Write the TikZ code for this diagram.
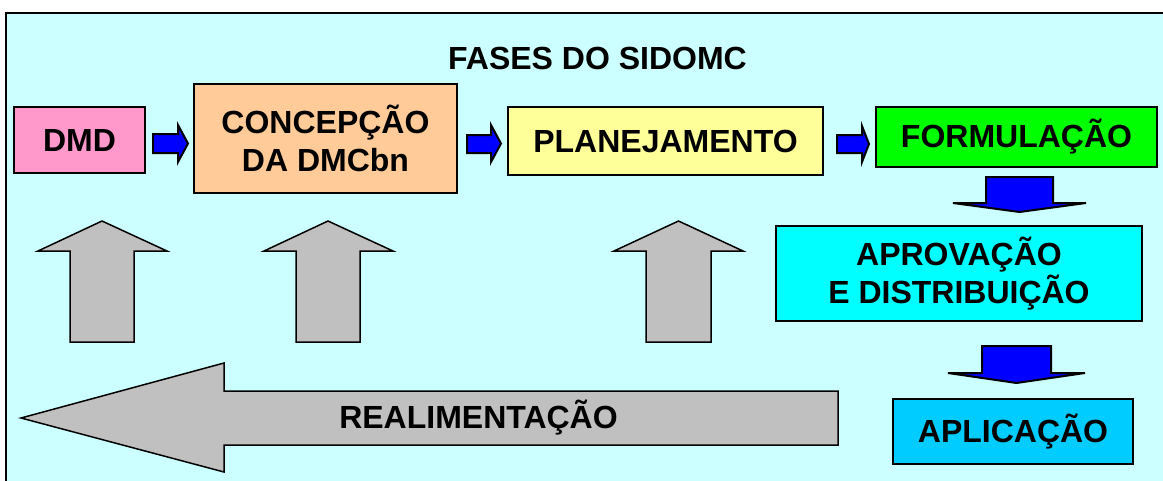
\documentclass[tikz,border=0pt]{standalone}
\usepackage{fontspec}
\setmainfont{Liberation Sans}
\definecolor{bg}{HTML}{CCFFFF}
\definecolor{pink1}{HTML}{FF99CC}
\definecolor{peach}{HTML}{FFCC99}
\definecolor{yel}{HTML}{FFFF99}
\definecolor{green1}{HTML}{00FF00}
\definecolor{cyan1}{HTML}{00FFFF}
\definecolor{aplic}{HTML}{00CCFF}
\definecolor{blue1}{HTML}{0000FF}
\definecolor{gray1}{HTML}{C0C0C0}
\begin{document}
\begin{tikzpicture}[x=1pt,y=-1pt,line join=miter,
  txt/.style={inner sep=0pt,font=\bfseries\fontsize{32}{38}\selectfont,align=center},
  box/.style={txt,draw=black,line width=2pt},
  garrow/.style={draw=black,line width=1.5pt,fill=gray1},
  barrow/.style={draw=black,line width=2pt,fill=blue1}]
\useasboundingbox (0,0) rectangle (1163,480);
\fill[white] (0,0) rectangle (1163,480);
\draw[line width=2pt,fill=bg] (6,13) rectangle (1185,505);

\node[txt] (title) at (597.5,58) {FASES DO SIDOMC};

\node[box,fill=pink1,minimum width=131pt,minimum height=66pt] (dmd) at (79.5,140) {DMD};
\node[box,fill=peach,minimum width=263pt,minimum height=109pt] (conc) at (325.5,138.5) {CONCEPÇÃO\\DA DMCbn};
\node[box,fill=yel,minimum width=315pt,minimum height=68pt] (plan) at (665.5,141) {PLANEJAMENTO};
\node[box,fill=green1,minimum width=281pt,minimum height=60pt] (form) at (1016.5,137) {FORMULAÇÃO};
\node[box,fill=cyan1,minimum width=366pt,minimum height=95pt] (apro) at (959,273.5) {APROVAÇÃO\\E DISTRIBUIÇÃO};
\node[box,fill=aplic,minimum width=240pt,minimum height=65pt] (apli) at (1013,431.5) {APLICAÇÃO};

% small blue right arrows
\draw[barrow] (153,134)--(178,134)--(178,125)--(188,143.5)--(178,162)--(178,153)--(153,153)--cycle;
\draw[barrow] (467,135)--(491,135)--(491,125)--(501,143.5)--(491,162)--(491,153)--(467,153)--cycle;
\draw[barrow] (837,135)--(862,135)--(862,126)--(869,144)--(862,162)--(862,153)--(837,153)--cycle;

% blue down arrows
\draw[barrow] (986,177)--(1053,177)--(1053,203)--(1086,203)--(1019.5,212)--(953,203)--(986,203)--cycle;
\draw[barrow] (982,346)--(1051,346)--(1051,373)--(1085,373)--(1016.5,383)--(948,373)--(982,373)--cycle;

% grey up arrows
\draw[garrow] (70,342)--(70,251)--(38,251)--(102,221)--(167,251)--(134,251)--(134,342)--cycle;
\draw[garrow] (296,342)--(296,251)--(264,251)--(328,221)--(393,251)--(360,251)--(360,342)--cycle;
\draw[garrow] (646,342)--(646,251)--(614,251)--(678.5,221)--(743,251)--(711,251)--(711,342)--cycle;

% feedback arrow
\draw[garrow] (838,391)--(224,391)--(224,363)--(21,418)--(224,472)--(224,445)--(838,445)--cycle;
\node[txt] (real) at (478.5,418) {REALIMENTAÇÃO};
\end{tikzpicture}
\end{document}
